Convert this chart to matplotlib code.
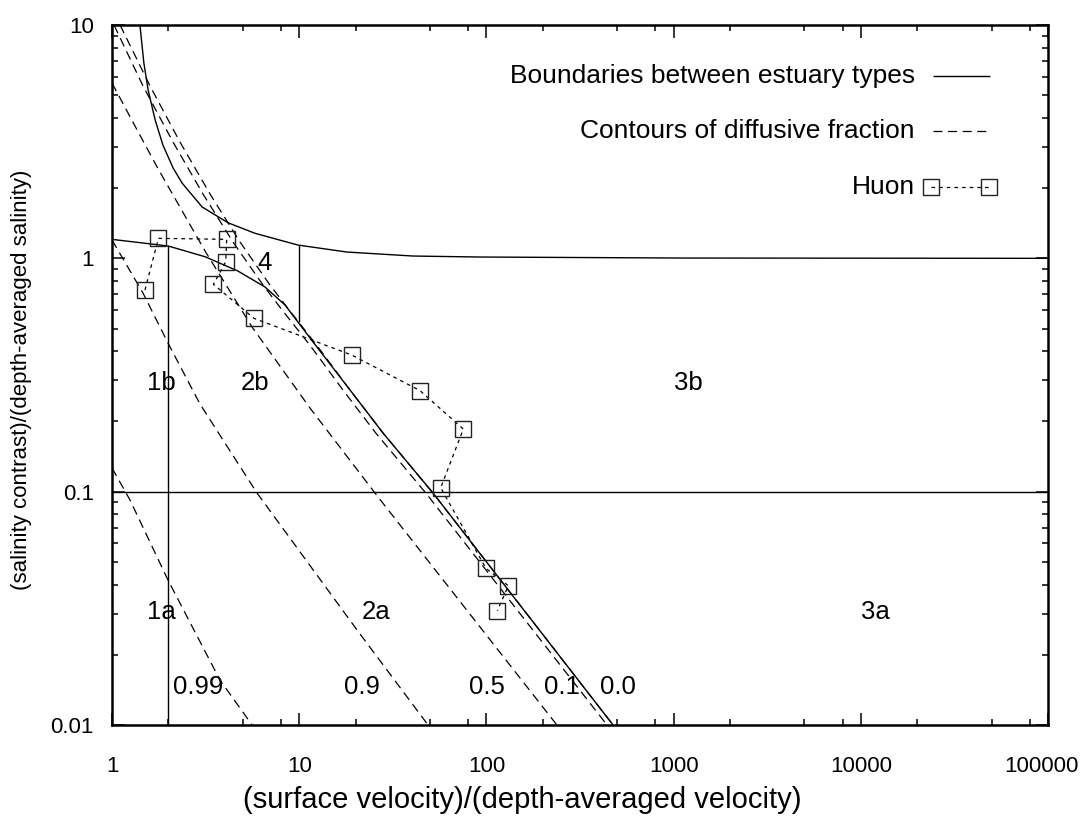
import numpy as np
import matplotlib.pyplot as plt
from matplotlib.ticker import FixedLocator, NullFormatter, FixedFormatter
from matplotlib.lines import Line2D
from matplotlib.transforms import blended_transform_factory, ScaledTranslation

plt.rcParams['font.family'] = ['Liberation Sans', 'DejaVu Sans']
plt.rcParams['lines.scale_dashes'] = False

# boundary between types 2/4 and 3b (tends to 1 at large velocity ratio)
upper_x = [1.41, 1.48, 1.56, 1.70, 1.87, 2.12, 2.37, 3.03, 4.17, 5.81, 9.85, 18.0, 40.5, 92.4, 1080, 100000]
upper_y = [10.0, 6.87, 5.26, 3.92, 3.06, 2.44, 2.10, 1.66, 1.42, 1.28, 1.14, 1.064, 1.023, 1.013, 1.003, 1.0]

# boundary between types b and 4 / 2 and 3
lower_x = [1.0, 2.0, 3.14, 4.71, 6.57, 8.40, 9.85, 12.4, 18.7, 28.1, 52.0, 475]
lower_y = [1.206, 1.129, 1.016, 0.882, 0.753, 0.631, 0.533, 0.418, 0.2725, 0.178, 0.0984, 0.01]

# straight boundaries
type1_x = 2.0
type1_top = 1.129
type4_x = 10.0
type4_range = (0.533, 1.14)
ab_y = 0.1

# contours of diffusive fraction nu
nu_levels = ['0.99', '0.9', '0.5', '0.1', '0.0']
nu_x = {
    '0.99': [1.0, 1.248, 1.991, 3.775, 5.60],
    '0.9': [1.0, 1.464, 1.991, 2.952, 5.95, 20.4, 48.8],
    '0.5': [1.0, 1.327, 1.761, 3.14, 5.60, 11.42, 26.4, 238],
    '0.1': [1.025, 1.464, 2.118, 3.063, 4.43, 6.41, 8.19, 11.42, 17.14, 25.7, 47.6, 441],
    '0.0': [1.104, 1.596, 2.308, 3.34, 4.83, 6.98, 8.93, 12.4, 18.7, 28.1, 52.0, 475],
}
nu_y = {
    '0.99': [0.1263, 0.0921, 0.0418, 0.01558, 0.01],
    '0.9': [1.198, 0.71, 0.4335, 0.2374, 0.0987, 0.0255, 0.01],
    '0.5': [5.64, 3.69, 2.423, 1.075, 0.5077, 0.2282, 0.0948, 0.01],
    '0.1': [10.0, 5.48, 3.15, 1.886, 1.175, 0.768, 0.594, 0.424, 0.2725, 0.178, 0.0984, 0.01],
    '0.0': [10.0, 5.48, 3.15, 1.886, 1.175, 0.768, 0.594, 0.424, 0.2725, 0.178, 0.0984, 0.01],
}

# Huon estuary observations
huon_x = [1.50, 1.77, 4.10, 4.05, 3.48, 5.74, 19.1, 44.2, 75.3, 57.0, 99.5, 131, 114.4]
huon_y = [0.731, 1.218, 1.206, 0.967, 0.774, 0.553, 0.385, 0.271, 0.1855, 0.1039, 0.0469, 0.0395, 0.0309]

# region and contour labels
region_labels = ['1b', '2b', '4', '3b', '1a', '2a', '3a']
region_pos = [(1.83, 0.292), (5.81, 0.292), (6.57, 0.955), (1194, 0.292),
              (1.83, 0.0305), (25.7, 0.0305), (11900, 0.0305)]
nu_label_pos = [(2.88, 0.0146), (21.7, 0.0146), (100.7, 0.0146), (253, 0.0146), (505, 0.0146)]

x_ticks = [1, 10, 100, 1000, 10000, 100000]
x_ticklabels = ['1', '10', '100', '1000', '10000', '100000']
y_ticks = [0.01, 0.1, 1, 10]
y_ticklabels = ['0.01', '0.1', '1', '10']

W, H = 1083, 822
fig = plt.figure(figsize=(W / 100, H / 100), dpi=100)
ax = fig.add_axes([112 / W, 1 - 725 / H, (1048 - 112) / W, 700 / H])
ax.set_xscale('log')
ax.set_yscale('log')
ax.set_xlim(1, 1e5)
ax.set_ylim(0.01, 10)

solid = dict(color='black', lw=1.0, solid_capstyle='butt')
dash = dict(color='black', lw=0.9, dashes=(6.5, 4.0))
huon_style = dict(color='black', lw=0.9, dashes=(2.6, 2.9), marker='s', ms=11,
                  mfc='none', mec='#222222', mew=1.0)

ax.plot(upper_x, upper_y, **solid)
ax.plot(lower_x, lower_y, **solid)
ax.plot([type1_x, type1_x], [0.01, type1_top], **solid)
ax.plot([type4_x, type4_x], list(type4_range), **solid)
ax.plot([1, 1e5], [ab_y, ab_y], **solid)

for lev in nu_levels:
    ax.plot(nu_x[lev], nu_y[lev], **dash)

ax.plot(huon_x, huon_y, **huon_style)

for lab, (x, y) in zip(region_labels, region_pos):
    ax.text(x, y, lab, fontsize=18.5, ha='center', va='center')
for lab, (x, y) in zip(nu_levels, nu_label_pos):
    ax.text(x, y, lab, fontsize=18.5, ha='center', va='center')


def fx(px):
    return px / W


def fy(py):
    return 1 - py / H


# legend: right-aligned text, sample line to the right
leg_rows = [76, 131, 187]
leg_text = ['Boundaries between estuary types', 'Contours of diffusive fraction', 'Huon']
for py, t in zip(leg_rows, leg_text):
    fig.text(fx(915), fy(py), t, fontsize=19, ha='right', va='center')
fig.add_artist(Line2D([fx(933), fx(990)], [fy(76)] * 2, **solid))
fig.add_artist(Line2D([fx(933), fx(990)], [fy(131)] * 2, **dash))
fig.add_artist(Line2D([fx(931), fx(989)], [fy(187)] * 2, **huon_style))

# ticks
ax.xaxis.set_major_locator(FixedLocator(x_ticks))
ax.xaxis.set_major_formatter(NullFormatter())
ax.xaxis.set_minor_locator(FixedLocator([d * m for d in x_ticks[:-1] for m in (2, 5, 8)]))
ax.xaxis.set_minor_formatter(NullFormatter())
ax.yaxis.set_major_locator(FixedLocator(y_ticks))
ax.yaxis.set_major_formatter(FixedFormatter(y_ticklabels))
ax.yaxis.set_minor_locator(FixedLocator([d * m for d in y_ticks[:-1] for m in range(2, 10)]))
ax.yaxis.set_minor_formatter(NullFormatter())

ax.tick_params(which='both', direction='in', top=True, right=True, width=1.1, labelsize=16)
ax.tick_params(which='major', length=9)
ax.tick_params(which='minor', length=4.5)
ax.tick_params(axis='y', which='major', pad=13)
for s in ax.spines.values():
    s.set_linewidth(1.8)

# x tick labels drawn below the axis; the last one is nudged inside the canvas
xtrans = blended_transform_factory(ax.transData, fig.transFigure)
for i, (xv, lab) in enumerate(zip(x_ticks, x_ticklabels)):
    tr = xtrans
    if i == len(x_ticks) - 1:
        tr = xtrans + ScaledTranslation(-0.07, 0, fig.dpi_scale_trans)
    ax.text(xv, fy(766), lab, fontsize=16, ha='center', va='center',
            transform=tr, clip_on=False)

fig.text(fx(522), fy(800), '(surface velocity)/(depth-averaged velocity)',
         fontsize=21, ha='center', va='center')
fig.text(fx(22), fy(380), '(salinity contrast)/(depth-averaged salinity)',
         fontsize=16, ha='center', va='center', rotation=90)

fig.savefig('out.png', dpi=100)
